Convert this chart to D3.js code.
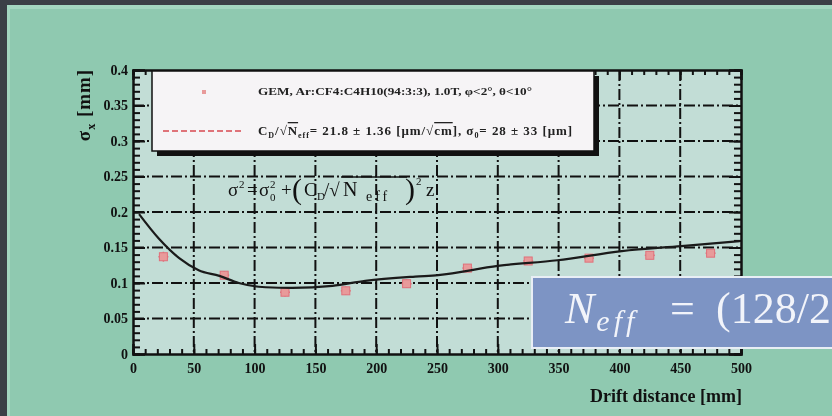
<!DOCTYPE html>
<html>
<head>
<meta charset="utf-8">
<script src="https://cdn.jsdelivr.net/npm/d3@7"></script>
<style>
  html, body { margin: 0; padding: 0; background: #3b3f46; }
  svg { display: block; filter: blur(0.6px); }
  .tick-label { font-family: "Liberation Serif", serif; font-weight: bold; font-size: 14px; fill: #111; }
</style>
</head>
<body>
<div id="chart-area"></div>
<script>
// Measured points (drift distance in mm, sigma in mm)
var distance = [25, 75, 125, 175, 225, 275, 325, 375, 425, 475];
var sigma    = [0.137, 0.111, 0.087, 0.089, 0.099, 0.121, 0.131, 0.135, 0.139, 0.142];
var sigmaErr = [0.007, 0.006, 0.006, 0.006, 0.006, 0.005, 0.005, 0.005, 0.005, 0.005];

// Fit curve
var fitDistance = [5, 21, 38, 54, 71, 87, 109, 131, 164, 191, 232, 251, 300, 349, 402, 451, 499];
var fitSigma    = [0.197, 0.163, 0.135, 0.118, 0.110, 0.100, 0.094, 0.093, 0.096, 0.103, 0.109, 0.111, 0.124, 0.132, 0.145, 0.152, 0.159];

var xTicks = [0, 50, 100, 150, 200, 250, 300, 350, 400, 450, 500];
var yTicks = [0, 0.05, 0.1, 0.15, 0.2, 0.25, 0.3, 0.35, 0.4];
var yTickLabels = ["0", "0.05", "0.1", "0.15", "0.2", "0.25", "0.3", "0.35", "0.4"];

var margin = { left: 133, right: 91, top: 70, bottom: 62 };
var W = 832, H = 416;
var width = W - margin.left - margin.right,
    height = H - margin.top - margin.bottom;

var svg = d3.select("#chart-area")
    .append("svg")
        .attr("width", W)
        .attr("height", H);

// Slide background
svg.append("rect").attr("width", W).attr("height", H).attr("fill", "#3b3f46");
svg.append("rect")
    .attr("x", 7).attr("y", 5)
    .attr("width", W - 7).attr("height", H - 5)
    .attr("fill", "#a3d6c0");
svg.append("rect")
    .attr("x", 10).attr("y", 9)
    .attr("width", W - 10).attr("height", H - 9)
    .attr("fill", "#8fc9b0");

var g = svg.append("g")
    .attr("transform", "translate(" + margin.left + "," + margin.top + ")");

// Scales
var x = d3.scaleLinear().domain([0, 500]).range([0, width]);
var y = d3.scaleLinear().domain([0, 0.4]).range([height, 0]);

// Plot background
g.append("rect")
    .attr("width", width).attr("height", height)
    .attr("fill", "#c2ddd6");

// Grid lines (dash-dot)
g.selectAll(".vgrid")
    .data(xTicks.slice(1, -1))
    .enter().append("line")
        .attr("x1", function(d){ return x(d); })
        .attr("x2", function(d){ return x(d); })
        .attr("y1", 0).attr("y2", height)
        .attr("stroke", "#111").attr("stroke-width", 2)
        .attr("stroke-dasharray", "11,3,2,3");
g.selectAll(".hgrid")
    .data(yTicks.slice(1, -1))
    .enter().append("line")
        .attr("x1", 0).attr("x2", width)
        .attr("y1", function(d){ return y(d); })
        .attr("y2", function(d){ return y(d); })
        .attr("stroke", "#111").attr("stroke-width", 2)
        .attr("stroke-dasharray", "11,3,2,3");

// Axes: ticks point inward on all four sides
var xMinor = d3.range(0, 501, 10);
var yMinor = d3.range(0, 0.4001, 0.01);

g.append("g")
    .attr("transform", "translate(0," + height + ")")
    .call(d3.axisBottom(x).tickValues(xMinor).tickSize(-5).tickFormat(""));
g.append("g")
    .attr("transform", "translate(0," + height + ")")
    .call(d3.axisBottom(x).tickValues(xTicks).tickSize(-10).tickPadding(9)
        .tickFormat(d3.format("d")));
g.append("g")
    .call(d3.axisTop(x).tickValues(xMinor).tickSize(-5).tickFormat(""));
g.append("g")
    .call(d3.axisTop(x).tickValues(xTicks).tickSize(-10).tickFormat(""));

g.append("g")
    .call(d3.axisLeft(y).tickValues(yMinor).tickSize(-7).tickFormat(""));
g.append("g")
    .call(d3.axisLeft(y).tickValues(yTicks).tickSize(-12).tickPadding(5)
        .tickFormat(function(d, i){ return yTickLabels[i]; }));
g.append("g")
    .attr("transform", "translate(" + width + ",0)")
    .call(d3.axisRight(y).tickValues(yMinor).tickSize(-7).tickFormat(""));
g.append("g")
    .attr("transform", "translate(" + width + ",0)")
    .call(d3.axisRight(y).tickValues(yTicks).tickSize(-12).tickFormat(""));

g.selectAll(".domain").attr("stroke", "#111").attr("stroke-width", 2);
g.selectAll(".tick line").attr("stroke", "#111").attr("stroke-width", 2);
g.selectAll(".tick text").attr("class", "tick-label").attr("font-size", null).attr("font-family", null);

// Fit curve
var line = d3.line()
    .x(function(d){ return x(d[0]); })
    .y(function(d){ return y(d[1]); })
    .curve(d3.curveMonotoneX);
var fitData = fitDistance.map(function(d, i){ return [d, fitSigma[i]]; });

// Data points with error bars
var points = g.selectAll(".pt")
    .data(distance.map(function(d, i){ return { z: d, s: sigma[i], e: sigmaErr[i] }; }))
    .enter().append("g");
points.append("line")
    .attr("x1", function(d){ return x(d.z); })
    .attr("x2", function(d){ return x(d.z); })
    .attr("y1", function(d){ return y(d.s - d.e); })
    .attr("y2", function(d){ return y(d.s + d.e); })
    .attr("stroke", "#e0707a").attr("stroke-width", 1.5);
points.append("line")
    .attr("x1", function(d){ return x(d.z) - 5; })
    .attr("x2", function(d){ return x(d.z) + 5; })
    .attr("y1", function(d){ return y(d.s); })
    .attr("y2", function(d){ return y(d.s); })
    .attr("stroke", "#e0707a").attr("stroke-width", 1.5);
points.append("rect")
    .attr("x", function(d){ return x(d.z) - 4; })
    .attr("y", function(d){ return y(d.s) - 4; })
    .attr("width", 8).attr("height", 8)
    .attr("fill", "#e89a9a").attr("stroke", "#e0707a").attr("stroke-width", 1);

g.append("path")
    .datum(fitData)
    .attr("d", line)
    .attr("fill", "none")
    .attr("stroke", "#1a1a1a")
    .attr("stroke-width", 2.2);

// Formula  sigma^2 = sigma0^2 + (C_D / sqrt(N_eff))^2 z
var fFont = "Liberation Serif, serif";
var formula = svg.append("g").attr("fill", "#111").attr("font-family", fFont);
function ftext(px, py, size, s, spacing) {
    formula.append("text").attr("x", px).attr("y", py)
        .attr("font-size", size + "px")
        .attr("letter-spacing", spacing ? spacing + "px" : null)
        .text(s);
}
ftext(228, 196, 19, "σ");
ftext(239, 188, 11, "2");
ftext(247, 196, 19, "=");
ftext(259, 196, 19, "σ");
ftext(270, 188, 11, "2");
ftext(270, 201, 11, "0");
ftext(281, 196, 19, "+");
ftext(292, 199, 30, "(");
ftext(304, 196, 19, "C");
ftext(317, 200, 11, "D");
ftext(324, 196, 19, "/√");
formula.append("line")
    .attr("x1", 341).attr("x2", 407)
    .attr("y1", 177).attr("y2", 177)
    .attr("stroke", "#111").attr("stroke-width", 1.3);
ftext(343, 196, 20, "N");
ftext(366, 201, 14, "eff", 3);
ftext(405, 199, 30, ")");
ftext(416, 185, 11, "2");
ftext(426, 196, 19, "z");

// Legend
var legend = g.append("g");
legend.append("rect")
    .attr("x", 24).attr("y", 6)
    .attr("width", 442).attr("height", 80)
    .attr("fill", "#111");
legend.append("rect")
    .attr("x", 19).attr("y", 1)
    .attr("width", 442).attr("height", 80)
    .attr("fill", "#f6f4f6").attr("stroke", "#111").attr("stroke-width", 1.5);
legend.append("rect")
    .attr("x", 69).attr("y", 20)
    .attr("width", 4).attr("height", 4)
    .attr("fill", "#e89a9a");
legend.append("line")
    .attr("x1", 30).attr("x2", 110)
    .attr("y1", 61).attr("y2", 61)
    .attr("stroke", "#d84850").attr("stroke-width", 1.3)
    .attr("stroke-dasharray", "6,3");
legend.append("text")
    .attr("x", 125).attr("y", 25)
    .attr("font-family", "Liberation Serif, serif")
    .attr("font-weight", "bold").attr("font-size", "10px")
    .attr("fill", "#222")
    .attr("textLength", 274).attr("lengthAdjust", "spacingAndGlyphs")
    .text("GEM, Ar:CF4:C4H10(94:3:3), 1.0T, φ<2°, θ<10°");
var leg2 = legend.append("text")
    .attr("x", 125).attr("y", 65)
    .attr("font-family", "Liberation Serif, serif")
    .attr("font-weight", "bold").attr("font-size", "13px")
    .attr("letter-spacing", "0.95px")
    .attr("fill", "#222");
leg2.append("tspan").text("C");
leg2.append("tspan").attr("font-size", "8px").attr("dy", 3).text("D");
leg2.append("tspan").attr("dy", -3).text("/√");
leg2.append("tspan").attr("text-decoration", "overline").text("N");
leg2.append("tspan").attr("font-size", "8px").attr("dy", 3).text("eff");
leg2.append("tspan").attr("dy", -3).text("= 21.8 ± 1.36 [μm/√");
leg2.append("tspan").attr("text-decoration", "overline").text("cm");
leg2.append("tspan").text("],  σ");
leg2.append("tspan").attr("font-size", "8px").attr("dy", 3).text("0");
leg2.append("tspan").attr("dy", -3).text("=   28 ±   33 [μm]");

// Axis titles
g.append("text")
    .attr("x", width + 1).attr("y", height + 48)
    .attr("text-anchor", "end")
    .attr("font-family", "Liberation Serif, serif")
    .attr("font-weight", "bold").attr("font-size", "18px")
    .attr("fill", "#111")
    .text("Drift distance [mm]");
var yLabel = g.append("text")
    .attr("transform", "translate(-43,35) rotate(-90)")
    .attr("text-anchor", "middle")
    .attr("font-family", "Liberation Serif, serif")
    .attr("font-weight", "bold").attr("font-size", "19px")
    .attr("letter-spacing", "1px")
    .attr("fill", "#111");
yLabel.append("tspan").text("σ");
yLabel.append("tspan").attr("font-size", "12px").attr("dy", 5).text("x");
yLabel.append("tspan").attr("dy", -5).text(" [mm]");

// Overlay box from the slide (its text runs to the window edge)
svg.append("rect")
    .attr("x", 532).attr("y", 277)
    .attr("width", 310).attr("height", 71)
    .attr("fill", "#7d94c4")
    .attr("stroke", "#e8eef5").attr("stroke-width", 2);
var neff = svg.append("text")
    .attr("x", 565).attr("y", 323)
    .attr("font-family", "Liberation Serif, serif")
    .attr("font-size", "44px")
    .attr("fill", "#f2f4fa");
neff.append("tspan").attr("font-style", "italic").text("N");
neff.append("tspan").attr("font-style", "italic").attr("font-size", "30px")
    .attr("letter-spacing", "4px").attr("dy", 8).attr("dx", 2).text("eff");
neff.append("tspan").attr("x", 670).attr("dy", -8).text("=");
neff.append("tspan").attr("x", 716).text("(128/2");
</script>
</body>
</html>
